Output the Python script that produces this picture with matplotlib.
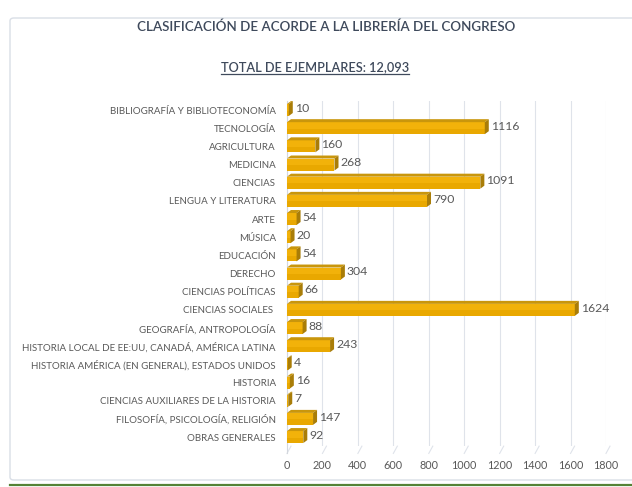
import matplotlib
matplotlib.use("Agg")
import matplotlib.pyplot as plt
from matplotlib.patches import Rectangle, Polygon, FancyBboxPatch
from matplotlib.lines import Line2D

categories = [
    "BIBLIOGRAFÍA Y BIBLIOTECONOMÍA",
    "TECNOLOGÍA",
    "AGRICULTURA",
    "MEDICINA",
    "CIENCIAS",
    "LENGUA Y LITERATURA",
    "ARTE",
    "MÚSICA",
    "EDUCACIÓN",
    "DERECHO",
    "CIENCIAS POLÍTICAS",
    "CIENCIAS SOCIALES ",
    "GEOGRAFÍA, ANTROPOLOGÍA",
    "HISTORIA LOCAL DE EE:UU, CANADÁ, AMÉRICA LATINA",
    "HISTORIA AMÉRICA (EN GENERAL), ESTADOS UNIDOS",
    "HISTORIA",
    "CIENCIAS AUXILIARES DE LA HISTORIA",
    "FILOSOFÍA, PSICOLOGÍA, RELIGIÓN",
    "OBRAS GENERALES",
]
values = [10, 1116, 160, 268, 1091, 790, 54, 20, 54, 304, 66, 1624, 88, 243, 4, 16, 7, 147, 92]
x_ticks = [0, 200, 400, 600, 800, 1000, 1200, 1400, 1600, 1800]
title = "CLASIFICACIÓN DE ACORDE A LA LIBRERÍA DEL CONGRESO"
subtitle = "TOTAL DE EJEMPLARES: 12,093"

FONT = "Lato"
TXT = "#595959"
W, H = 632, 487

fig = plt.figure(figsize=(W / 100, H / 100), dpi=100)
fig.patch.set_facecolor("white")

# outer chart frame and bottom rule
frame = FancyBboxPatch((10 / W, 1 - 480 / H), 640 / W, 462 / H,
                       boxstyle="round,pad=0,rounding_size=0.006",
                       transform=fig.transFigure, facecolor="none",
                       edgecolor="#D9DEE6", linewidth=1.0, zorder=-5)
fig.add_artist(frame)
fig.add_artist(Line2D([10 / W, 1.0], [1 - 485 / H] * 2, transform=fig.transFigure,
                      color="#548235", linewidth=1.6))

# plot area
n = len(categories)
step = 18.17
top_px = 110 - 0.5 * step
bot_px = top_px + n * step
left_px, right_px = 287, 606
ax = fig.add_axes([left_px / W, 1 - bot_px / H, (right_px - left_px) / W, (bot_px - top_px) / H])
ax.set_xlim(0, 1800)
ax.set_ylim(n - 0.5, -0.5)
ax.set_facecolor("none")
for s in ax.spines.values():
    s.set_visible(False)

px_x = 1800 / (right_px - left_px)   # data units per pixel (x)
px_y = 1 / step                       # data units per pixel (y)
dx, dy = 4 * px_x, 3 * px_y

# gridlines with a slanted foot
grid_c = "#DFE3EA"
for t in x_ticks:
    ax.plot([t, t], [-0.5, n - 0.5], color=grid_c, lw=0.8, zorder=0)
    ax.plot([t, t + dx], [n - 0.5 + 0.4, n - 0.5], color=grid_c, lw=0.8,
            zorder=0, clip_on=False)
ax.plot([0, 0], [-0.5, n - 0.5 + 0.4], color="#D3D7DD", lw=0.8, zorder=0, clip_on=False)

bar_h = 0.66
front = "#F2B20A"
topc = "#C9960C"
sidec = "#A97D08"
for i, v in enumerate(values):
    y0 = i - bar_h / 2
    y1 = i + bar_h / 2
    ax.add_patch(Rectangle((0, y0), v, bar_h, facecolor=front, edgecolor="none", zorder=2))
    ax.add_patch(Rectangle((0, y0 + bar_h * 0.55), v, bar_h * 0.45,
                           facecolor="#E9A800", edgecolor="none", zorder=2))
    ax.add_patch(Polygon([(0, y0), (v, y0), (v + dx, y0 - dy), (dx, y0 - dy)],
                         closed=True, facecolor=topc, edgecolor="none", zorder=2))
    ax.add_patch(Polygon([(v, y0), (v + dx, y0 - dy), (v + dx, y1 - dy), (v, y1)],
                         closed=True, facecolor=sidec, edgecolor="none", zorder=2))
    ax.text(v + dx + 2 * px_x, i - 0.1, f"{v}", ha="left", va="center",
            fontsize=8.8, color=TXT, family=FONT, zorder=3)

ax.set_yticks(range(n))
ax.set_yticklabels(categories, fontsize=7.0, color=TXT, family=FONT)
ax.set_xticks(x_ticks)
ax.set_xticklabels([str(t) for t in x_ticks], fontsize=7.8, color=TXT, family=FONT)
ax.tick_params(axis="both", length=0)
ax.tick_params(axis="y", pad=8)
ax.tick_params(axis="x", pad=10)

fig.text(326 / W, 1 - 27 / H, title, ha="center", va="center", fontsize=9.6,
         color="#3F4A5C", family=FONT, fontweight="semibold")
sub = fig.text(315 / W, 1 - 67 / H, subtitle, ha="center", va="center", fontsize=9.2,
               color="#3F4A5C", family=FONT, fontweight="semibold")

# underline the subtitle
fig.canvas.draw()
bb = sub.get_window_extent(fig.canvas.get_renderer()).transformed(fig.transFigure.inverted())
fig.add_artist(Line2D([bb.x0, bb.x1], [bb.y0 - 1.5 / H] * 2, transform=fig.transFigure,
                      color="#3F4A5C", linewidth=0.9))

fig.savefig("out.png", dpi=100, facecolor="white")
